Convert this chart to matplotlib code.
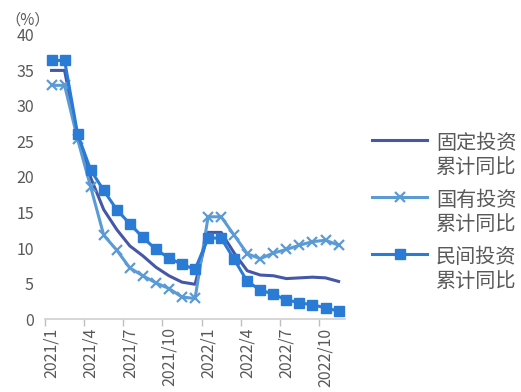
import matplotlib
matplotlib.use("Agg")
import matplotlib.pyplot as plt
import numpy as np

plt.rcParams['font.family'] = ['Noto Sans CJK SC', 'DejaVu Sans']

months = ["2021/1", "2021/2", "2021/3", "2021/4", "2021/5", "2021/6", "2021/7", "2021/8",
          "2021/9", "2021/10", "2021/11", "2021/12", "2022/1", "2022/2", "2022/3", "2022/4",
          "2022/5", "2022/6", "2022/7", "2022/8", "2022/9", "2022/10", "2022/11"]
fixed = [35.0, 35.0, 25.6, 19.9, 15.4, 12.6, 10.3, 8.9, 7.3, 6.1, 5.2, 4.9,
         12.2, 12.2, 9.3, 6.8, 6.2, 6.1, 5.7, 5.8, 5.9, 5.8, 5.3]
state = [32.9, 32.9, 25.3, 18.6, 11.8, 9.7, 7.2, 6.1, 5.1, 4.3, 3.1, 2.9,
         14.4, 14.4, 11.8, 9.2, 8.5, 9.3, 9.8, 10.4, 10.9, 11.1, 10.4]
private = [36.4, 36.4, 26.0, 21.0, 18.1, 15.4, 13.4, 11.5, 9.8, 8.6, 7.7, 7.0,
           11.4, 11.4, 8.4, 5.3, 4.1, 3.5, 2.7, 2.3, 2.0, 1.6, 1.1]
labels = ["固定投资\n累计同比", "国有投资\n累计同比", "民间投资\n累计同比"]

fig = plt.figure(figsize=(5.21, 3.92), dpi=100)
ax = fig.add_axes([0.0864, 0.186, 0.576, 0.725])
x = np.arange(len(months))

ax.plot(x, fixed, color="#4558A8", lw=2.2, label=labels[0])
ax.plot(x, state, color="#5B9BD5", lw=2.2, marker="x", ms=7, mew=1.6, label=labels[1])
ax.plot(x, private, color="#2A7BD6", lw=2.2, marker="s", ms=6.5, label=labels[2])

ax.set_xlim(-0.5, len(months) - 0.5)
ax.set_ylim(0, 40)
ax.set_yticks(np.arange(0, 41, 5))
ax.tick_params(axis='y', length=0, labelsize=11.5, labelcolor="#595959", pad=8)

ax.set_xticks(x[::3])
ax.set_xticklabels(months[::3], rotation=90)
ax.tick_params(axis='x', which='major', length=0, labelsize=11.5, labelcolor="#595959", pad=6)
ax.set_xticks(np.arange(-0.5, len(months), 3), minor=True)
ax.tick_params(axis='x', which='minor', length=5, color="#BFBFBF", width=1)

for s in ["top", "right", "left"]:
    ax.spines[s].set_visible(False)
ax.spines["bottom"].set_color("#D0D0D0")
ax.spines["bottom"].set_linewidth(1.2)

fig.text(0.010, 0.95, "（%）", fontsize=11, color="#595959", ha="left", va="center")

leg = fig.legend(loc="upper left", bbox_to_anchor=(0.680, 0.708), frameon=False,
                 fontsize=14.5, handlelength=2.7, handletextpad=0.45, labelspacing=0.6,
                 labelcolor="#595959")
# align legend handles with the first line of each two-line label
for col in leg._legend_handle_box.get_children():
    for item in col.get_children():
        item.align = "top"

fig.savefig("out.png", dpi=100)
